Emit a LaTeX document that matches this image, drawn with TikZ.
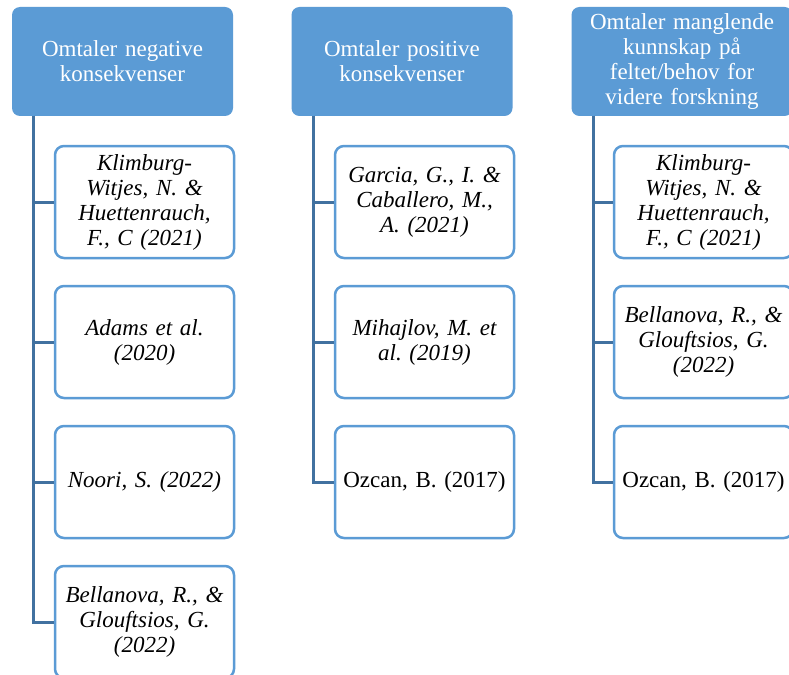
\documentclass[tikz,border=0pt]{standalone}
\usepackage{fontspec}
\setmainfont{Liberation Serif}
\frenchspacing
\definecolor{hdr}{RGB}{91,155,213}
\definecolor{cbord}{RGB}{91,155,213}
\definecolor{conn}{RGB}{65,113,160}
\begin{document}
\begin{tikzpicture}[x=1pt,y=-1pt,
  hbox/.style={draw=none,fill=hdr,rounded corners=8pt,minimum width=221pt,minimum height=109pt,
    inner sep=0pt,text width=214pt,align=center,text=white,font=\fontsize{23}{25}\selectfont},
  cbox/.style={draw=cbord,line width=2.5pt,fill=white,rounded corners=9pt,minimum width=179pt,minimum height=112pt,
    inner sep=0pt,text width=176pt,align=center,font=\fontsize{23}{25}\selectfont},
  cline/.style={draw=conn,line width=3pt}]
\clip (0,0) rectangle (789,674);
\fill[white] (0,0) rectangle (789,674);
% headers
\node[hbox] (h1) at (122.5,61.5) {Omtaler negative\\konsekvenser};
\node[hbox] (h2) at (402,61.5) {Omtaler positive\\konsekvenser};
\node[hbox] (h3) at (682,61.5) {Omtaler manglende\\kunnskap på\\feltet/behov for\\videre forskning};
% connector origins
\coordinate (t1) at (33,116);
\coordinate (t2) at (313,116);
\coordinate (t3) at (593,116);
% column 1
\node[cbox] (c11) at (144.5,202) {\itshape Klimburg-\\Witjes, N. \&\\Huettenrauch,\\F., C (2021)};
\node[cbox] (c12) at (144.5,342) {\itshape Adams et al.\\(2020)};
\node[cbox] (c13) at (144.5,482) {\itshape Noori, S. (2022)};
\node[cbox] (c14) at (144.5,622) {\itshape Bellanova, R., \&\\Glouftsios, G.\\(2022)};
% column 2
\node[cbox] (c21) at (424.5,202) {\itshape Garcia, G., I. \&\\Caballero, M.,\\A. (2021)};
\node[cbox] (c22) at (424.5,342) {\itshape Mihajlov, M. et\\al. (2019)};
\node[cbox] (c23) at (424.5,482) {Ozcan, B. (2017)};
% column 3
\node[cbox] (c31) at (703.5,202) {\itshape Klimburg-\\Witjes, N. \&\\Huettenrauch,\\F., C (2021)};
\node[cbox] (c32) at (703.5,342) {\itshape Bellanova, R., \&\\Glouftsios, G.\\(2022)};
\node[cbox] (c33) at (703.5,482) {Ozcan, B. (2017)};
% connectors
\foreach \c in {c11,c12,c13,c14} \draw[cline] (t1) |- (\c.west);
\foreach \c in {c21,c22,c23} \draw[cline] (t2) |- (\c.west);
\foreach \c in {c31,c32,c33} \draw[cline] (t3) |- (\c.west);
\end{tikzpicture}
\end{document}
